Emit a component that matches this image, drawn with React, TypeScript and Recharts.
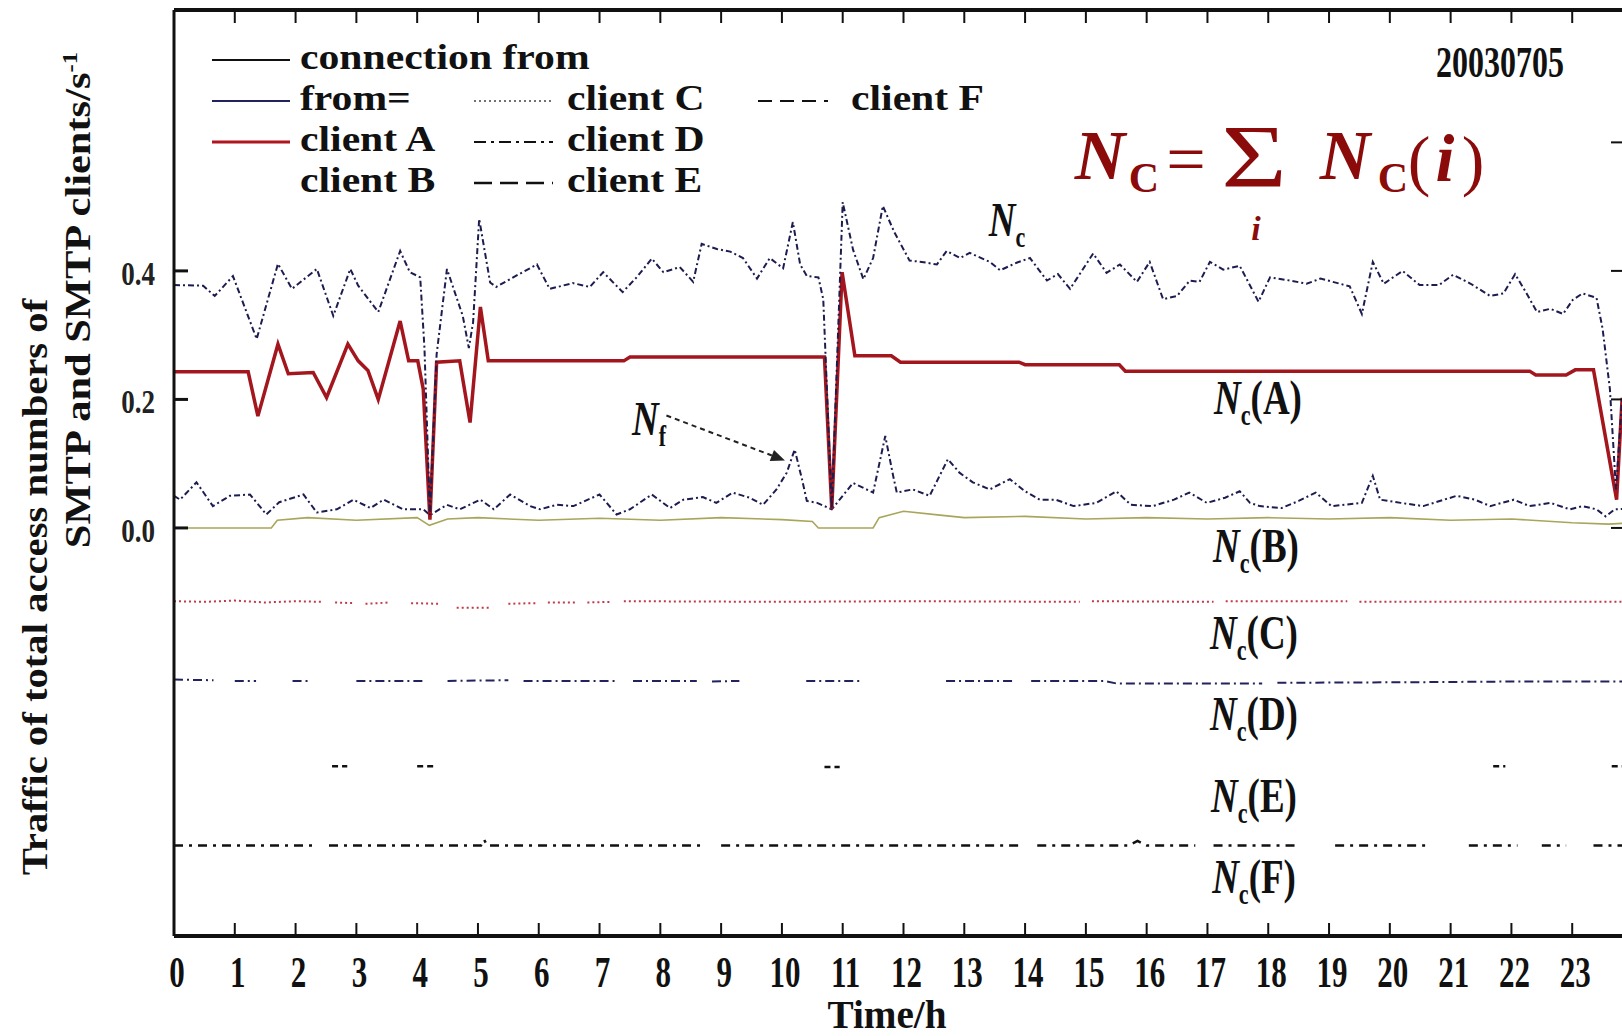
import React from "react";
import { LineChart, Line, XAxis, YAxis, ReferenceLine } from "recharts";

const SERIF = '"Liberation Serif", "DejaVu Serif", serif';

type Pt = [number, number | null];

const hourTicks = [0, 1, 2, 3, 4, 5, 6, 7, 8, 9, 10, 11, 12, 13, 14, 15, 16, 17, 18, 19, 20, 21, 22, 23];
const topTicks = [1, 2, 3, 4, 5, 6, 7, 8, 9, 10, 11, 12, 13, 14, 15, 16, 17, 18, 19, 20, 21, 22, 23];
const yTicks = [0, 0.2, 0.4];
const rightTicks = [0, 0.2, 0.4, 0.6];

// N_C : total of all clients
const ncTotal: Pt[] = [
  [0, 0.378], [0.48, 0.377], [0.67, 0.361], [0.97, 0.392], [1.36, 0.294], [1.71, 0.411],
  [1.94, 0.372], [2.35, 0.403], [2.62, 0.33], [2.9, 0.403], [3.03, 0.377], [3.36, 0.336],
  [3.72, 0.431], [3.88, 0.398], [4.05, 0.39], [4.12, 0.28], [4.21, 0.02], [4.32, 0.27],
  [4.49, 0.403], [4.75, 0.33], [4.85, 0.28], [4.92, 0.32], [5.02, 0.481], [5.2, 0.382],
  [5.3, 0.375], [5.58, 0.39], [5.97, 0.41], [6.18, 0.372], [6.56, 0.381], [6.84, 0.375],
  [7.06, 0.398], [7.38, 0.367], [7.61, 0.39], [7.86, 0.419], [8.05, 0.398], [8.32, 0.406],
  [8.54, 0.383], [8.68, 0.442], [8.93, 0.434], [9.15, 0.43], [9.36, 0.42], [9.59, 0.388],
  [9.8, 0.42], [10.02, 0.404], [10.18, 0.476], [10.3, 0.41], [10.41, 0.392], [10.6, 0.39],
  [10.68, 0.356], [10.82, 0.03], [11.0, 0.507], [11.17, 0.433], [11.34, 0.387], [11.5, 0.42],
  [11.66, 0.501], [11.85, 0.46], [12.1, 0.416], [12.3, 0.414], [12.55, 0.41], [12.71, 0.431],
  [12.93, 0.42], [13.09, 0.428], [13.42, 0.414], [13.59, 0.401], [13.87, 0.413], [14.08, 0.42],
  [14.36, 0.385], [14.54, 0.395], [14.74, 0.372], [14.85, 0.388], [15.12, 0.427], [15.34, 0.397],
  [15.56, 0.41], [15.84, 0.383], [16.05, 0.414], [16.27, 0.356], [16.5, 0.361], [16.71, 0.385],
  [16.87, 0.383], [17.04, 0.414], [17.26, 0.402], [17.53, 0.408], [17.84, 0.352], [18.03, 0.39],
  [18.36, 0.385], [18.63, 0.38], [18.86, 0.388], [19.18, 0.38], [19.34, 0.376], [19.54, 0.333],
  [19.72, 0.414], [19.9, 0.38], [20.21, 0.4], [20.49, 0.378], [20.81, 0.378], [21.04, 0.394],
  [21.33, 0.38], [21.65, 0.361], [21.87, 0.365], [22.06, 0.395], [22.25, 0.365], [22.42, 0.336],
  [22.64, 0.341], [22.85, 0.333], [23.01, 0.355], [23.17, 0.365], [23.4, 0.358], [23.5, 0.31],
  [23.62, 0.216], [23.72, 0.06], [23.82, 0.2], [24, 0.2],
];

// N_C(A) : client A
const ncA: Pt[] = [
  [0, 0.243], [1.22, 0.243], [1.38, 0.174], [1.71, 0.286], [1.88, 0.24], [2.29, 0.242],
  [2.51, 0.203], [2.86, 0.286], [3.03, 0.26], [3.19, 0.245], [3.36, 0.2], [3.72, 0.322],
  [3.86, 0.26], [4.01, 0.26], [4.1, 0.216], [4.21, 0.013], [4.32, 0.258], [4.7, 0.26],
  [4.87, 0.164], [5.04, 0.344], [5.17, 0.26], [7.4, 0.26], [7.5, 0.266], [10.7, 0.266],
  [10.82, 0.03], [10.99, 0.398], [11.2, 0.268], [11.8, 0.268], [11.95, 0.258], [13.9, 0.258],
  [14.0, 0.254], [15.55, 0.254], [15.65, 0.244], [22.3, 0.244], [22.4, 0.238], [22.9, 0.238],
  [23.05, 0.246], [23.35, 0.246], [23.73, 0.044], [23.82, 0.2], [24, 0.2],
];

// N_f
const nf: Pt[] = [
  [0, 0.05], [0.1, 0.044], [0.37, 0.071], [0.64, 0.034], [0.92, 0.05], [1.25, 0.052],
  [1.52, 0.021], [1.73, 0.04], [2.13, 0.052], [2.35, 0.024], [2.68, 0.029], [2.95, 0.044],
  [3.23, 0.031], [3.45, 0.044], [3.77, 0.029], [4.1, 0.029], [4.21, 0.02], [4.49, 0.036],
  [4.7, 0.029], [5.04, 0.044], [5.26, 0.029], [5.53, 0.052], [5.86, 0.034], [6.02, 0.029],
  [6.3, 0.036], [6.57, 0.034], [7.0, 0.052], [7.28, 0.021], [7.5, 0.029], [7.86, 0.052],
  [8.16, 0.031], [8.38, 0.044], [8.7, 0.048], [8.92, 0.039], [9.19, 0.055], [9.47, 0.047],
  [9.69, 0.036], [9.91, 0.06], [10.08, 0.086], [10.21, 0.122], [10.33, 0.076], [10.41, 0.042],
  [10.58, 0.039], [10.82, 0.029], [11.0, 0.05], [11.17, 0.07], [11.5, 0.055], [11.7, 0.143],
  [11.83, 0.081], [11.89, 0.055], [12.15, 0.06], [12.43, 0.05], [12.73, 0.107], [12.92, 0.086],
  [13.14, 0.071], [13.42, 0.06], [13.75, 0.076], [14.0, 0.057], [14.24, 0.044], [14.5, 0.044],
  [14.8, 0.034], [15.17, 0.039], [15.5, 0.057], [15.74, 0.036], [16.1, 0.034], [16.45, 0.044],
  [16.7, 0.055], [16.99, 0.039], [17.29, 0.047], [17.53, 0.057], [17.7, 0.039], [17.86, 0.034],
  [18.22, 0.031], [18.5, 0.042], [18.78, 0.055], [19.04, 0.034], [19.54, 0.039], [19.72, 0.081],
  [19.84, 0.044], [20.18, 0.039], [20.55, 0.034], [21.1, 0.05], [21.4, 0.044], [21.65, 0.034],
  [22.04, 0.044], [22.3, 0.034], [22.64, 0.039], [22.96, 0.029], [23.17, 0.034], [23.4, 0.029],
  [23.55, 0.018], [23.7, 0.029], [24, 0.03],
];

// N_C(B) : client B
const ncB: Pt[] = [
  [0, 0.0], [1.6, 0.0], [1.7, 0.012], [2.2, 0.016], [3.0, 0.012], [4.0, 0.016], [4.2, 0.004],
  [4.5, 0.014], [5, 0.016], [6, 0.012], [7, 0.015], [8, 0.012], [9, 0.016], [10, 0.013],
  [10.5, 0.01], [10.6, 0.0], [11.5, 0.0], [11.6, 0.016], [12, 0.026], [12.6, 0.02], [13, 0.016],
  [14, 0.018], [15, 0.014], [16, 0.016], [17, 0.014], [18, 0.016], [19, 0.014], [20, 0.016],
  [21, 0.012], [22, 0.014], [23, 0.008], [23.6, 0.006], [24, 0.008],
];

// N_C(C) .. N_C(F), drawn on shifted baselines
const ncC: Pt[] = [
  [0, -0.114], [0.5, -0.115], [1, -0.113], [1.5, -0.116], [2, -0.114], [2.45, -0.115], [2.5, null],
  [2.65, -0.116], [2.95, -0.117], [3.0, null], [3.15, -0.118], [3.55, -0.116], [3.6, null],
  [3.9, -0.117], [4.35, -0.118], [4.4, null], [4.65, -0.124], [5.2, -0.124], [5.3, null],
  [5.5, -0.118], [5.95, -0.117], [6.0, null], [6.15, -0.116], [6.6, -0.116], [6.65, null],
  [6.8, -0.116], [7.2, -0.115], [7.25, null], [7.4, -0.114], [10, -0.115], [12, -0.114],
  [14.9, -0.115], [14.95, null], [15.1, -0.114], [17.1, -0.115], [17.15, null], [17.3, -0.114],
  [19.3, -0.114], [19.35, null], [19.5, -0.115], [24, -0.115],
];

const ncD: Pt[] = [
  [0, -0.236], [0.65, -0.237], [0.7, null], [1.0, -0.238], [1.35, -0.238], [1.4, null],
  [1.95, -0.238], [2.2, -0.238], [2.25, null], [3.0, -0.238], [4.1, -0.238], [4.15, null],
  [4.5, -0.238], [5.5, -0.237], [5.55, null], [5.75, -0.238], [7.3, -0.238], [7.35, null],
  [7.55, -0.238], [8.6, -0.238], [8.65, null], [8.85, -0.239], [9.3, -0.238], [9.35, null],
  [10.4, -0.238], [11.3, -0.238], [11.35, null], [12.7, -0.238], [13.8, -0.238], [13.85, null],
  [14.1, -0.238], [15.3, -0.238], [15.5, -0.242], [17.9, -0.242], [18.0, null], [18.15, -0.241],
  [20.5, -0.24], [22, -0.239], [24, -0.239],
];

const ncE: Pt[] = [
  [2.6, -0.371], [2.85, -0.371], [2.9, null], [4.0, -0.371], [4.3, -0.371], [4.35, null],
  [10.7, -0.372], [10.95, -0.372], [11.0, null], [21.7, -0.371], [21.9, -0.371], [21.95, null],
  [23.65, -0.371], [23.85, -0.371],
];

const ncF: Pt[] = [
  [0, -0.494], [2.3, -0.494], [2.35, null], [2.55, -0.494], [5.05, -0.494], [5.1, -0.485],
  [5.15, -0.494], [8.7, -0.494], [8.75, null], [9.0, -0.494], [13.9, -0.494], [14.0, null],
  [14.2, -0.494], [15.7, -0.494], [15.85, -0.487], [16.0, -0.494], [16.8, -0.494], [16.85, null],
  [17.1, -0.494], [18.5, -0.494], [18.55, null], [19.1, -0.494], [20.6, -0.494], [20.65, null],
  [21.3, -0.494], [22.1, -0.494], [22.15, null], [22.5, -0.494], [22.9, -0.494], [22.95, null],
  [23.35, -0.494], [24, -0.494],
];

// dashed arrow pointing at the N_f peak
const arrowFrom = { x: 8.1, y: 0.175 };
const arrowTo = { x: 10.05, y: 0.105 };

const rows = (pts: Pt[]) => pts.map(([h, v]) => ({ h, v }));

const BottomTick = ({ x, y, payload }: any) => (
  <g>
    <line x1={x} x2={x} y1={y} y2={y - 13} stroke="#111" strokeWidth={2} />
    <text
      transform={`translate(${x + 3},${y + 36}) scale(1,1.42)`}
      textAnchor="middle"
      dominantBaseline="central"
      fontFamily={SERIF}
      fontWeight="bold"
      fontSize={31}
      fill="#111"
    >
      {payload.value}
    </text>
  </g>
);

const TopTick = ({ x, y }: any) => (
  <line x1={x} x2={x} y1={y} y2={y + 13} stroke="#111" strokeWidth={2} />
);

const LeftTick = ({ x, y, payload }: any) => (
  <g>
    <line x1={x} x2={x + 14} y1={y} y2={y} stroke="#111" strokeWidth={3} />
    <text
      transform={`translate(${x - 19},${y + 3}) scale(1,1.25)`}
      textAnchor="end"
      dominantBaseline="central"
      fontFamily={SERIF}
      fontWeight="bold"
      fontSize={27}
      fill="#222"
    >
      {payload.value.toFixed(1)}
    </text>
  </g>
);

const RightTick = ({ x, y }: any) => (
  <line x1={x} x2={x - 22} y1={y} y2={y} stroke="#111" strokeWidth={2} />
);

const ArrowShape = (p: any) => {
  const { x1, y1, x2, y2 } = p;
  if (x1 == null || x2 == null) return <g />;
  const ang = Math.atan2(y2 - y1, x2 - x1);
  const L = 14;
  const W = 6;
  const bx = x2 - L * Math.cos(ang);
  const by = y2 - L * Math.sin(ang);
  const pts = `${x2},${y2} ${bx + W * Math.sin(ang)},${by - W * Math.cos(ang)} ${bx - W * Math.sin(ang)},${by + W * Math.cos(ang)}`;
  return (
    <g>
      <line x1={x1} y1={y1} x2={bx} y2={by} stroke="#222" strokeWidth={2} strokeDasharray="5 4" />
      <polygon points={pts} fill="#222" />
    </g>
  );
};

const Txt = ({ x, y, size, children, sx = 1, sy = 1, rotate = 0, left = false, weight = "bold", italic = false, color = "#111", lh = 1 }: any) => (
  <div
    style={{
      position: "absolute",
      left: x,
      top: y,
      transform: `translate(${left ? "0" : "-50%"},-50%) rotate(${rotate}deg) scale(${sx},${sy})`,
      transformOrigin: left ? "0 50%" : "50% 50%",
      fontFamily: SERIF,
      fontSize: size,
      fontWeight: weight,
      fontStyle: italic ? "italic" : "normal",
      color,
      whiteSpace: "nowrap",
      lineHeight: lh,
    }}
  >
    {children}
  </div>
);

const NcLabel = ({ x, y, tag, sub = "c" }: any) => (
  <Txt x={x} y={y} size={37} sy={1.3}>
    <span style={{ fontStyle: "italic" }}>N</span>
    <span style={{ fontSize: 22, position: "relative", top: 8 }}>{sub}</span>
    {tag}
  </Txt>
);

const LEG = 41;
const LEG_FONT = 35;
const LEG_SX = 1.19;
const RED = "#8b0a0a";

export default function App() {
  return (
    <div
      style={{
        position: "absolute",
        left: 0,
        top: 0,
        width: 1622,
        height: 1036,
        overflow: "hidden",
        background: "#fff",
      }}
    >
      <LineChart width={1660} height={1036} margin={{ top: 9, right: 0, bottom: 0, left: 0 }}>
        <XAxis
          xAxisId="b"
          dataKey="h"
          type="number"
          domain={[0, 24]}
          ticks={hourTicks}
          interval={0}
          height={100}
          tickSize={0}
          tickMargin={0}
          tickLine={false}
          axisLine={{ stroke: "#111", strokeWidth: 4 }}
          tick={(p: any) => <BottomTick {...p} />}
          allowDataOverflow
        />
        <XAxis
          xAxisId="t"
          orientation="top"
          dataKey="h"
          type="number"
          domain={[0, 24]}
          ticks={topTicks}
          interval={0}
          height={1}
          tickSize={0}
          tickMargin={0}
          tickLine={false}
          axisLine={{ stroke: "#111", strokeWidth: 4 }}
          tick={(p: any) => <TopTick {...p} />}
          allowDataOverflow
        />
        <YAxis
          yAxisId="l"
          type="number"
          domain={[-0.635, 0.806]}
          ticks={yTicks}
          interval={0}
          width={174}
          tickSize={0}
          tickMargin={0}
          tickLine={false}
          axisLine={{ stroke: "#111", strokeWidth: 3 }}
          tick={(p: any) => <LeftTick {...p} />}
          allowDataOverflow
        />
        <YAxis
          yAxisId="r"
          orientation="right"
          type="number"
          domain={[-0.635, 0.806]}
          ticks={rightTicks}
          interval={0}
          width={27}
          tickSize={0}
          tickMargin={0}
          tickLine={false}
          axisLine={{ stroke: "#111", strokeWidth: 3 }}
          tick={(p: any) => <RightTick {...p} />}
          allowDataOverflow
        />

        <Line xAxisId="b" yAxisId="l" data={rows(ncB)} dataKey="v" type="linear" dot={false}
          stroke="#a9a55a" strokeWidth={1.6} isAnimationActive={false} />
        <Line xAxisId="b" yAxisId="l" data={rows(ncC)} dataKey="v" type="linear" dot={false}
          stroke="#c23a4a" strokeWidth={2} strokeDasharray="2 3" isAnimationActive={false} />
        <Line xAxisId="b" yAxisId="l" data={rows(ncD)} dataKey="v" type="linear" dot={false}
          stroke="#22225e" strokeWidth={2} strokeDasharray="9 4 2 4" isAnimationActive={false} />
        <Line xAxisId="b" yAxisId="l" data={rows(ncE)} dataKey="v" type="linear" dot={false}
          stroke="#111" strokeWidth={2.5} strokeDasharray="6 4" isAnimationActive={false} />
        <Line xAxisId="b" yAxisId="l" data={rows(ncF)} dataKey="v" type="linear" dot={false}
          stroke="#111" strokeWidth={2.5} strokeDasharray="9 6 3 6" isAnimationActive={false} />
        <Line xAxisId="b" yAxisId="l" data={rows(nf)} dataKey="v" type="linear" dot={false}
          stroke="#1c1c50" strokeWidth={2} strokeDasharray="6 3 2 3" isAnimationActive={false} />
        <Line xAxisId="b" yAxisId="l" data={rows(ncA)} dataKey="v" type="linear" dot={false}
          stroke="#a3161d" strokeWidth={3.5} isAnimationActive={false} />
        <Line xAxisId="b" yAxisId="l" data={rows(ncTotal)} dataKey="v" type="linear" dot={false}
          stroke="#1c1c50" strokeWidth={2} strokeDasharray="6 3 2 3" isAnimationActive={false} />

        <ReferenceLine
          xAxisId="b"
          yAxisId="l"
          segment={[arrowFrom, arrowTo]}
          shape={(p: any) => <ArrowShape {...p} />}
        />
      </LineChart>

      {/* legend samples */}
      <svg style={{ position: "absolute", left: 0, top: 0 }} width={1000} height={210}>
        <line x1={212} x2={290} y1={60} y2={60} stroke="#111" strokeWidth={2} />
        <line x1={212} x2={290} y1={60 + LEG} y2={60 + LEG} stroke="#22225e" strokeWidth={2} />
        <line x1={212} x2={290} y1={60 + 2 * LEG} y2={60 + 2 * LEG} stroke="#b0161f" strokeWidth={3} />
        <line x1={474} x2={553} y1={60 + LEG} y2={60 + LEG} stroke="#444" strokeWidth={1.5} strokeDasharray="2 3" />
        <line x1={474} x2={553} y1={60 + 2 * LEG} y2={60 + 2 * LEG} stroke="#111" strokeWidth={2} strokeDasharray="12 5 3 5" />
        <line x1={474} x2={553} y1={60 + 3 * LEG} y2={60 + 3 * LEG} stroke="#111" strokeWidth={2.5} strokeDasharray="18 8" />
        <line x1={758} x2={828} y1={60 + LEG} y2={60 + LEG} stroke="#111" strokeWidth={2} strokeDasharray="14 8" />
      </svg>

      {/* legend text */}
      <Txt x={300} y={58} size={LEG_FONT} sx={LEG_SX} lh={0.85} left>connection from</Txt>
      <Txt x={300} y={58 + LEG} size={LEG_FONT} sx={LEG_SX} lh={0.85} left>from=</Txt>
      <Txt x={300} y={58 + 2 * LEG} size={LEG_FONT} sx={LEG_SX} lh={0.85} left>client A</Txt>
      <Txt x={300} y={58 + 3 * LEG} size={LEG_FONT} sx={LEG_SX} lh={0.85} left>client B</Txt>
      <Txt x={567} y={58 + LEG} size={LEG_FONT} sx={LEG_SX} lh={0.85} left>client C</Txt>
      <Txt x={567} y={58 + 2 * LEG} size={LEG_FONT} sx={LEG_SX} lh={0.85} left>client D</Txt>
      <Txt x={567} y={58 + 3 * LEG} size={LEG_FONT} sx={LEG_SX} lh={0.85} left>client E</Txt>
      <Txt x={851} y={58 + LEG} size={LEG_FONT} sx={LEG_SX} lh={0.85} left>client F</Txt>

      <Txt x={1500} y={62} size={32} sy={1.4}>20030705</Txt>

      {/* formula */}
      <Txt x={1100} y={156} size={70} italic color={RED}>N</Txt>
      <Txt x={1144} y={178} size={42} color={RED}>C</Txt>
      <Txt x={1186} y={160} size={70} weight="normal" color={RED}>=</Txt>
      <Txt x={1254} y={157} size={88} sx={1.28} weight="normal" color={RED} lh={0.7}>Σ</Txt>
      <Txt x={1256} y={229} size={34} italic color={RED} lh={0.8}>i</Txt>
      <Txt x={1345} y={156} size={70} italic color={RED}>N</Txt>
      <Txt x={1393} y={178} size={42} color={RED}>C</Txt>
      <Txt x={1419} y={160} size={68} weight="normal" color={RED}>(</Txt>
      <Txt x={1445} y={158} size={68} italic color={RED}>i</Txt>
      <Txt x={1473} y={160} size={68} weight="normal" color={RED}>)</Txt>

      {/* curve labels */}
      <NcLabel x={1007} y={220} tag="" />
      <NcLabel x={649} y={419} tag="" sub="f" />
      <NcLabel x={1258} y={398} tag="(A)" />
      <NcLabel x={1256} y={546} tag="(B)" />
      <NcLabel x={1254} y={633} tag="(C)" />
      <NcLabel x={1254} y={714} tag="(D)" />
      <NcLabel x={1254} y={796} tag="(E)" />
      <NcLabel x={1254} y={877} tag="(F)" />

      {/* axis titles */}
      <Txt x={35} y={587} size={36} rotate={-90} sx={1.13}>
        Traffic of total access numbers of
      </Txt>
      <Txt x={78} y={300} size={36} rotate={-90} sx={1.18}>
        SMTP and SMTP clients/s<sup style={{ fontSize: 21 }}>-1</sup>
      </Txt>
      <Txt x={887} y={1015} size={35} sx={1.12} sy={1.12}>Time/h</Txt>
    </div>
  );
}
